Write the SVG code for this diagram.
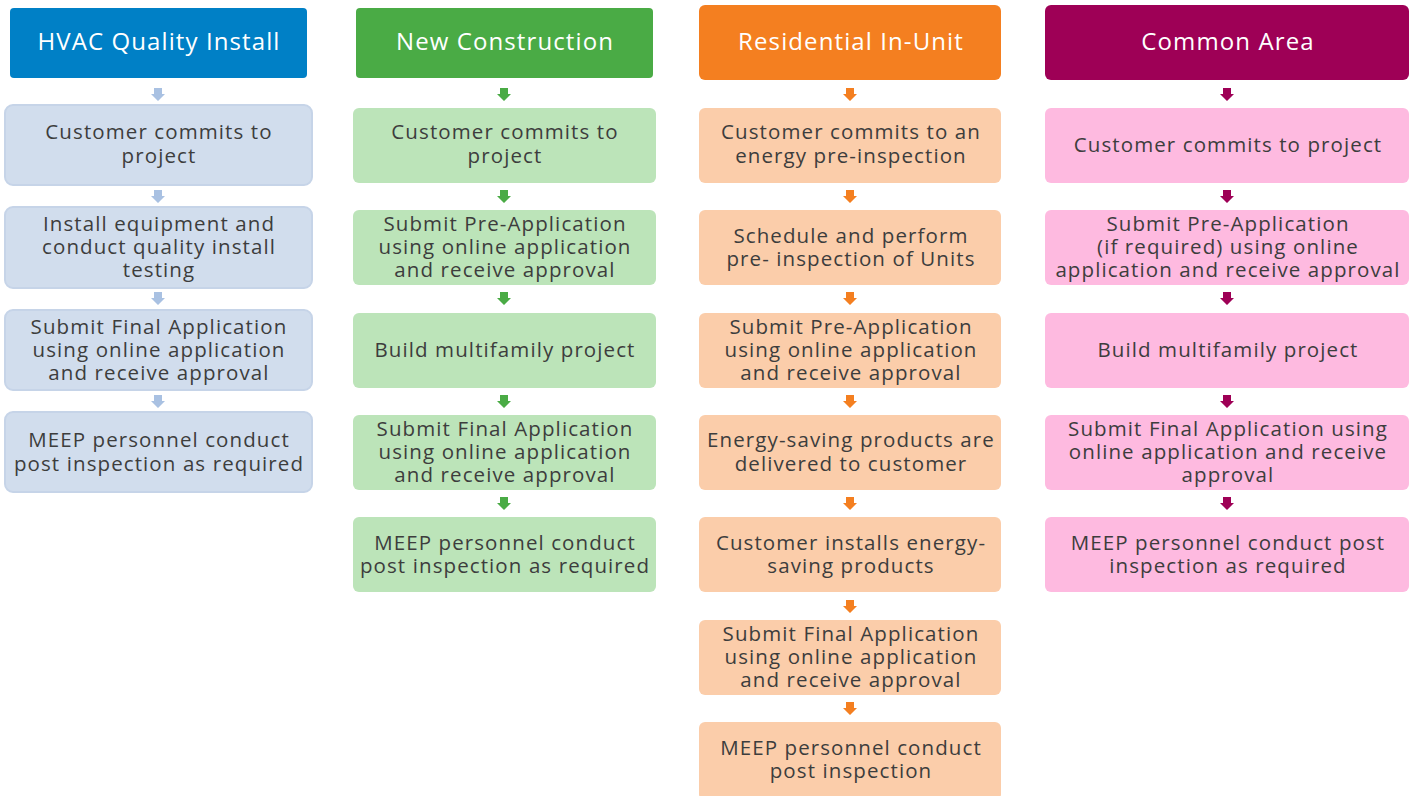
<svg xmlns="http://www.w3.org/2000/svg" xmlns:xlink="http://www.w3.org/1999/xlink" width="1419" height="796" viewBox="0 0 1419 796">
<style>
text{font-family:"Open Sans","Liberation Sans",sans-serif;text-anchor:middle}
.h{font-size:24px;fill:#ffffff;letter-spacing:1.1px}
.t{font-size:20.5px;fill:#3d3d3d;letter-spacing:1.1px}
.b1{fill:#d1dded;stroke:#c6d4e8;stroke-width:2}
.b2{fill:#bce4b9}
.b3{fill:#fbcdaa}
.b4{fill:#febae0}
.a1{fill:#a9c1e2}
.a2{fill:#4aab45}
.a3{fill:#f47f20}
.a4{fill:#9e0056}
</style>
<defs>
<path id="ar" d="M-4,0 H4 V6 H7 L0,13 L-7,6 H-4 Z"/>
</defs>
<rect width="1419" height="796" fill="#ffffff"/>
<g id="connectors">
<use xlink:href="#ar" class="a1" x="158" y="88"/>
<use xlink:href="#ar" class="a1" x="158" y="190"/>
<use xlink:href="#ar" class="a1" x="158" y="292"/>
<use xlink:href="#ar" class="a1" x="158" y="395"/>
<use xlink:href="#ar" class="a2" x="504" y="88"/>
<use xlink:href="#ar" class="a2" x="504" y="190"/>
<use xlink:href="#ar" class="a2" x="504" y="292"/>
<use xlink:href="#ar" class="a2" x="504" y="395"/>
<use xlink:href="#ar" class="a2" x="504" y="497"/>
<use xlink:href="#ar" class="a3" x="850" y="88"/>
<use xlink:href="#ar" class="a3" x="850" y="190"/>
<use xlink:href="#ar" class="a3" x="850" y="292"/>
<use xlink:href="#ar" class="a3" x="850" y="395"/>
<use xlink:href="#ar" class="a3" x="850" y="497"/>
<use xlink:href="#ar" class="a3" x="850" y="600"/>
<use xlink:href="#ar" class="a3" x="850" y="702"/>
<use xlink:href="#ar" class="a4" x="1227" y="88"/>
<use xlink:href="#ar" class="a4" x="1227" y="190"/>
<use xlink:href="#ar" class="a4" x="1227" y="292"/>
<use xlink:href="#ar" class="a4" x="1227" y="395"/>
<use xlink:href="#ar" class="a4" x="1227" y="497"/>
</g>

<g id="hvac-header"><rect x="10" y="8" width="297" height="70" rx="4" fill="#0080c6"/><text class="h" x="159" y="50">HVAC Quality Install</text></g>
<g id="hvac-1"><rect class="b1" x="5" y="105" width="307" height="80" rx="8"/><text class="t" x="159" y="139">Customer commits to</text><text class="t" x="159" y="163">project</text></g>
<g id="hvac-2"><rect class="b1" x="5" y="207" width="307" height="81" rx="8"/><text class="t" x="159" y="231">Install equipment and</text><text class="t" x="159" y="254">conduct quality install</text><text class="t" x="159" y="277">testing</text></g>
<g id="hvac-3"><rect class="b1" x="5" y="310" width="307" height="80" rx="8"/><text class="t" x="159" y="334">Submit Final Application</text><text class="t" x="159" y="357">using online application</text><text class="t" x="159" y="380">and receive approval</text></g>
<g id="hvac-4"><rect class="b1" x="5" y="412" width="307" height="80" rx="8"/><text class="t" x="159" y="447">MEEP personnel conduct</text><text class="t" x="159" y="471">post inspection as required</text></g>

<g id="nc-header"><rect x="356" y="8" width="297" height="70" rx="4" fill="#4aab45"/><text class="h" x="505" y="50">New Construction</text></g>
<g id="nc-1"><rect class="b2" x="353" y="108" width="303" height="75" rx="6"/><text class="t" x="505" y="139">Customer commits to</text><text class="t" x="505" y="163">project</text></g>
<g id="nc-2"><rect class="b2" x="353" y="210" width="303" height="75" rx="6"/><text class="t" x="505" y="231">Submit Pre-Application</text><text class="t" x="505" y="254">using online application</text><text class="t" x="505" y="277">and receive approval</text></g>
<g id="nc-3"><rect class="b2" x="353" y="313" width="303" height="75" rx="6"/><text class="t" x="505" y="357">Build multifamily project</text></g>
<g id="nc-4"><rect class="b2" x="353" y="415" width="303" height="75" rx="6"/><text class="t" x="505" y="436">Submit Final Application</text><text class="t" x="505" y="459">using online application</text><text class="t" x="505" y="482">and receive approval</text></g>
<g id="nc-5"><rect class="b2" x="353" y="517" width="303" height="75" rx="6"/><text class="t" x="505" y="550">MEEP personnel conduct</text><text class="t" x="505" y="573">post inspection as required</text></g>

<g id="riu-header"><rect x="699" y="5" width="302" height="75" rx="6" fill="#f47f20"/><text class="h" x="851" y="50">Residential In-Unit</text></g>
<g id="riu-1"><rect class="b3" x="699" y="108" width="302" height="75" rx="6"/><text class="t" x="851" y="139">Customer commits to an</text><text class="t" x="851" y="163">energy pre-inspection</text></g>
<g id="riu-2"><rect class="b3" x="699" y="210" width="302" height="75" rx="6"/><text class="t" x="851" y="243">Schedule and perform</text><text class="t" x="851" y="266">pre- inspection of Units</text></g>
<g id="riu-3"><rect class="b3" x="699" y="313" width="302" height="75" rx="6"/><text class="t" x="851" y="334">Submit Pre-Application</text><text class="t" x="851" y="357">using online application</text><text class="t" x="851" y="380">and receive approval</text></g>
<g id="riu-4"><rect class="b3" x="699" y="415" width="302" height="75" rx="6"/><text class="t" x="851" y="447">Energy-saving products are</text><text class="t" x="851" y="471">delivered to  customer</text></g>
<g id="riu-5"><rect class="b3" x="699" y="517" width="302" height="75" rx="6"/><text class="t" x="851" y="550">Customer installs energy-</text><text class="t" x="851" y="573">saving products</text></g>
<g id="riu-6"><rect class="b3" x="699" y="620" width="302" height="75" rx="6"/><text class="t" x="851" y="641">Submit Final Application</text><text class="t" x="851" y="664">using online application</text><text class="t" x="851" y="687">and receive approval</text></g>
<g id="riu-7"><rect class="b3" x="699" y="722" width="302" height="78" rx="6"/><text class="t" x="851" y="755">MEEP personnel conduct</text><text class="t" x="851" y="778">post inspection</text></g>

<g id="ca-header"><rect x="1045" y="5" width="364" height="75" rx="6" fill="#9e0056"/><text class="h" x="1228" y="50">Common Area</text></g>
<g id="ca-1"><rect class="b4" x="1045" y="108" width="364" height="75" rx="6"/><text class="t" x="1228" y="152">Customer commits to project</text></g>
<g id="ca-2"><rect class="b4" x="1045" y="210" width="364" height="75" rx="6"/><text class="t" x="1228" y="231">Submit Pre-Application</text><text class="t" x="1228" y="254">(if required) using online</text><text class="t" x="1228" y="277">application and receive approval</text></g>
<g id="ca-3"><rect class="b4" x="1045" y="313" width="364" height="75" rx="6"/><text class="t" x="1228" y="357">Build multifamily project</text></g>
<g id="ca-4"><rect class="b4" x="1045" y="415" width="364" height="75" rx="6"/><text class="t" x="1228" y="436">Submit Final Application using</text><text class="t" x="1228" y="459">online application and receive</text><text class="t" x="1228" y="482">approval</text></g>
<g id="ca-5"><rect class="b4" x="1045" y="517" width="364" height="75" rx="6"/><text class="t" x="1228" y="550">MEEP personnel conduct post</text><text class="t" x="1228" y="573">inspection as required</text></g>
</svg>
